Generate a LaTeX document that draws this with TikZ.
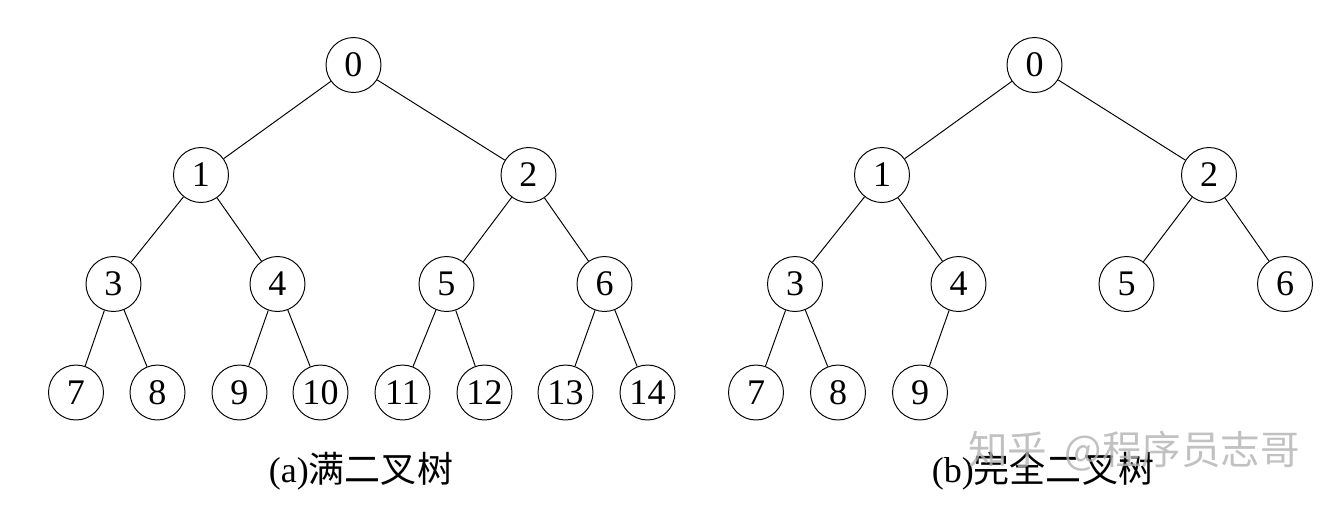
\documentclass[tikz,border=0pt]{standalone}
\usepackage{fontspec}
\setmainfont{Liberation Serif}
\newfontfamily\cjk{Noto Sans CJK SC}

\begin{document}
\begin{tikzpicture}[x=0.02cm,y=-0.02cm,
  font=\fontsize{20.5}{24}\selectfont,
  nd/.style={draw,circle,minimum size=1.1cm,inner sep=0pt,line width=0.55pt},
  ln/.style={line width=0.55pt},
  capt/.style={font=\fontsize{20.5}{24}\selectfont},
  wm/.style={text=black!30,text opacity=0.8,font=\fontsize{22.5}{24}\cjk}]
\useasboundingbox (0,0) rectangle (1336,512);

% (a) full binary tree
\node[nd] (a0) at (353.5,65) {0};
\node[nd] (a1) at (201,175) {1};
\node[nd] (a2) at (528.5,175) {2};
\node[nd] (a3) at (113.5,284) {3};
\node[nd] (a4) at (277.5,284) {4};
\node[nd] (a5) at (446.5,284) {5};
\node[nd] (a6) at (604.5,284) {6};
\node[nd] (a7) at (76,392.5) {7};
\node[nd] (a8) at (157.5,392.5) {8};
\node[nd] (a9) at (239.5,392.5) {9};
\node[nd] (a10) at (320.5,392.5) {10};
\node[nd] (a11) at (402.5,392.5) {11};
\node[nd] (a12) at (484.5,392.5) {12};
\node[nd] (a13) at (565.5,392.5) {13};
\node[nd] (a14) at (647.5,392.5) {14};
\draw[ln] (a0)--(a1); \draw[ln] (a0)--(a2);
\draw[ln] (a1)--(a3); \draw[ln] (a1)--(a4);
\draw[ln] (a2)--(a5); \draw[ln] (a2)--(a6);
\draw[ln] (a3)--(a7); \draw[ln] (a3)--(a8);
\draw[ln] (a4)--(a9); \draw[ln] (a4)--(a10);
\draw[ln] (a5)--(a11); \draw[ln] (a5)--(a12);
\draw[ln] (a6)--(a13); \draw[ln] (a6)--(a14);
\node[capt] (capa) at (361,471) {(a){\cjk 满二叉树}};

% (b) complete binary tree
\node[nd] (b0) at (1034.5,65) {0};
\node[nd] (b1) at (882,175) {1};
\node[nd] (b2) at (1209,175) {2};
\node[nd] (b3) at (795,284) {3};
\node[nd] (b4) at (958.5,284) {4};
\node[nd] (b5) at (1126.5,284) {5};
\node[nd] (b6) at (1285,284) {6};
\node[nd] (b7) at (756,392.5) {7};
\node[nd] (b8) at (838,392.5) {8};
\node[nd] (b9) at (920,392.5) {9};
\draw[ln] (b0)--(b1); \draw[ln] (b0)--(b2);
\draw[ln] (b1)--(b3); \draw[ln] (b1)--(b4);
\draw[ln] (b2)--(b5); \draw[ln] (b2)--(b6);
\draw[ln] (b3)--(b7); \draw[ln] (b3)--(b8);
\draw[ln] (b4)--(b9);
\node[capt] (capb) at (1043,471) {(b){\cjk 完全二叉树}};

% watermark
\node[wm] (mark) at (1134,451) {知乎\ \ @程序员志哥};
\end{tikzpicture}
\end{document}
